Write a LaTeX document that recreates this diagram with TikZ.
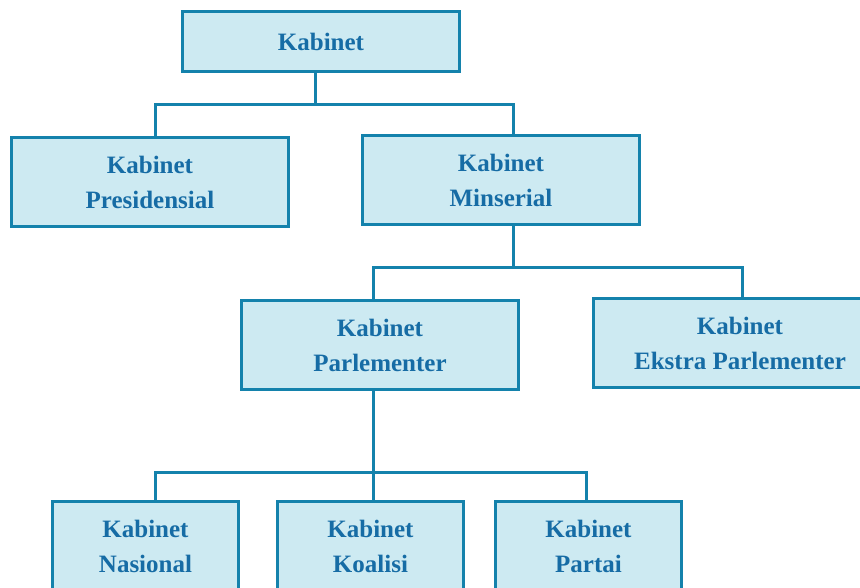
\documentclass[tikz,border=0pt]{standalone}
\usepackage{fontspec}
\setmainfont{Liberation Serif}
\definecolor{kabfill}{RGB}{205,234,242}
\definecolor{kabline}{RGB}{20,130,172}
\definecolor{kabtext}{RGB}{22,108,165}
\tikzset{
  kabbox/.style={draw=kabline, fill=kabfill, line width=3pt, text=kabtext,
    font=\fontsize{25}{35}\selectfont\bfseries, align=center, inner sep=0pt,
    minimum width=277pt, minimum height=89pt},
  smallbox/.style={kabbox, minimum width=186pt},
  conn/.style={draw=kabline, line width=3pt}
}

\begin{document}
\begin{tikzpicture}[x=1pt,y=-1pt]
        \useasboundingbox (0,0) rectangle (860,587);
        \clip (0,0) rectangle (860,587);

        % top level
        \node[kabbox, minimum height=60pt] (kab) at (321,41.5) {Kabinet};
        \node[kabbox] (pres) at (150,182) {Kabinet\\Presidensial};
        \node[kabbox] (mins) at (501,180) {Kabinet\\Minserial};

        % second level
        \node[kabbox] (parl) at (380,345) {Kabinet\\Parlementer};
        \node[kabbox, minimum width=293pt] (ekstra) at (740,343) {Kabinet\\Ekstra Parlementer};

        % third level
        \node[smallbox] (nas) at (145.5,546) {Kabinet\\Nasional};
        \node[smallbox] (koal) at (370.5,546) {Kabinet\\Koalisi};
        \node[smallbox] (part) at (588.5,546) {Kabinet\\Partai};

        \draw [conn] ([xshift=-6pt]kab.south) -- ++(0,31) coordinate (j1);
        \draw [conn] ([xshift=5pt]pres.north) |- (j1) -| ([xshift=12pt]mins.north);

        \draw [conn] ([xshift=12pt]mins.south) -- ++(0,41) coordinate (j2);
        \draw [conn] ([xshift=-7pt]parl.north) |- (j2) -| ([xshift=2pt]ekstra.north);

        \draw [conn] ([xshift=-7pt]parl.south) -- ++(0,81) coordinate (j3);
        \draw [conn] ([xshift=9.5pt]nas.north) |- (j3) -| ([xshift=-2.5pt]part.north);
        \draw [conn] (j3) -- ([xshift=2.5pt]koal.north);
\end{tikzpicture}
\end{document}
